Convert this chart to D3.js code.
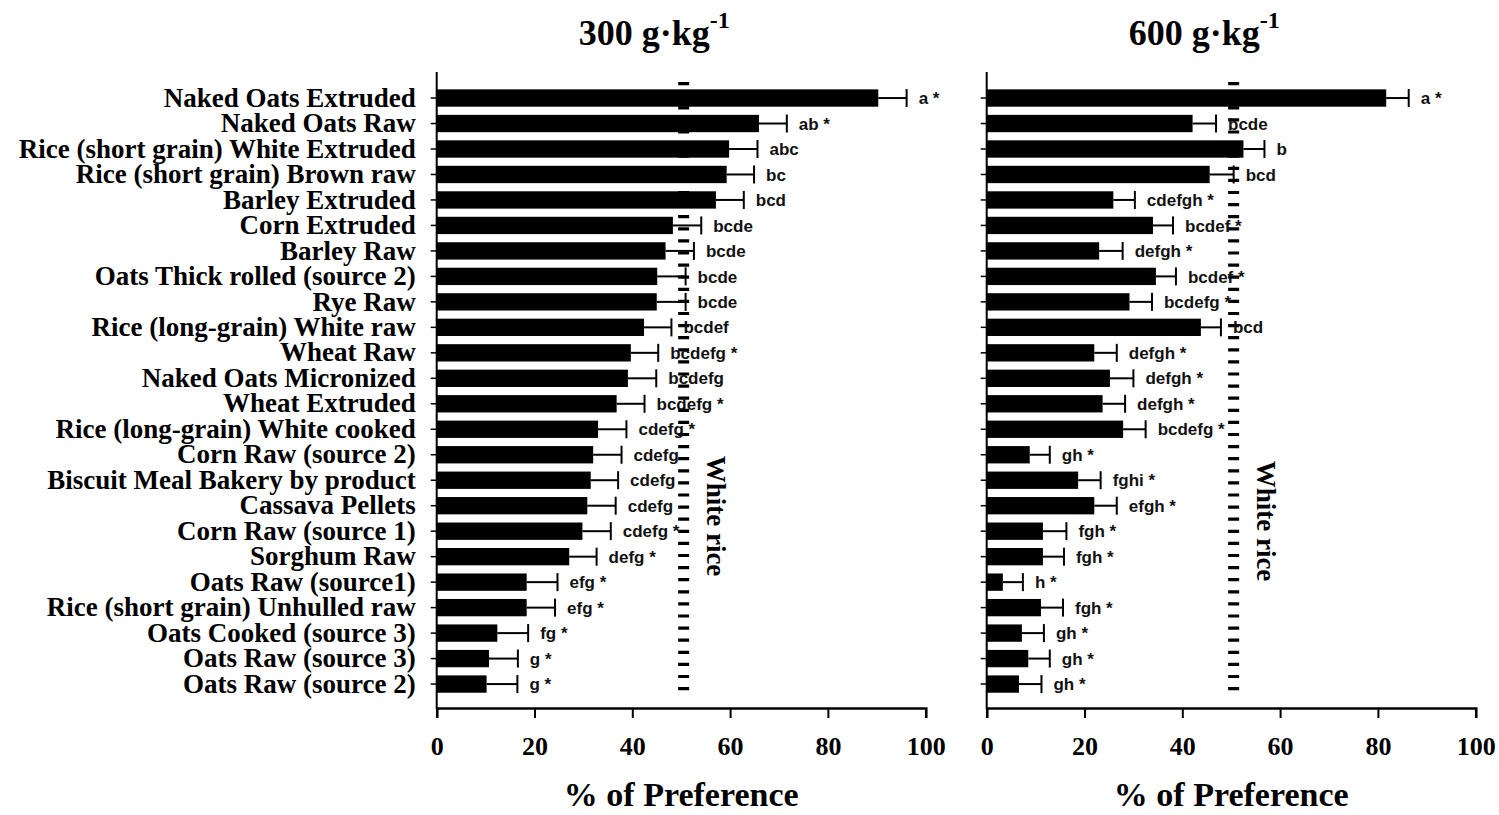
<!DOCTYPE html>
<html>
<head>
<meta charset="utf-8">
<script src="https://cdn.jsdelivr.net/npm/d3@7"></script>
<style>
  html, body { margin: 0; padding: 0; background: #ffffff; }
  svg { display: block; }
</style>
</head>
<body>
<div id="chart"></div>
<script>
// Feed ingredients, listed top to bottom
const categories = [
  "Naked Oats Extruded",
  "Naked Oats Raw",
  "Rice (short grain) White Extruded",
  "Rice (short grain) Brown raw",
  "Barley Extruded",
  "Corn Extruded",
  "Barley Raw",
  "Oats Thick rolled (source 2)",
  "Rye Raw",
  "Rice (long-grain) White raw",
  "Wheat Raw",
  "Naked Oats Micronized",
  "Wheat Extruded",
  "Rice (long-grain) White cooked",
  "Corn Raw (source 2)",
  "Biscuit Meal Bakery by product",
  "Cassava Pellets",
  "Corn Raw (source 1)",
  "Sorghum Raw",
  "Oats Raw (source1)",
  "Rice (short grain) Unhulled raw",
  "Oats Cooked (source 3)",
  "Oats Raw (source 3)",
  "Oats Raw (source 2)"
];

// % of preference at 300 g/kg inclusion, with SEM
const pref300 = [90.3, 65.9, 59.8, 59.3, 57.1, 48.3, 46.8, 45.1, 45.0, 42.4, 39.7, 39.1,
                 36.8, 33.0, 32.0, 31.5, 30.8, 29.8, 27.1, 18.4, 18.4, 12.4, 10.7, 10.2];
const err300  = [5.8, 5.7, 5.8, 5.6, 5.7, 5.8, 5.8, 5.8, 5.9, 5.6, 5.6, 5.8,
                 5.7, 5.8, 5.8, 5.6, 5.8, 5.8, 5.6, 6.3, 5.8, 6.3, 5.9, 6.3];
const sig300  = ["a *", "ab *", "abc", "bc", "bcd", "bcde", "bcde", "bcde", "bcde", "bcdef",
                 "bcdefg *", "bcdefg", "bcdefg *", "cdefg *", "cdefg", "cdefg", "cdefg",
                 "cdefg *", "defg *", "efg *", "efg *", "fg *", "g *", "g *"];

// % of preference at 600 g/kg inclusion, with SEM
const pref600 = [81.7, 42.1, 52.5, 45.6, 25.9, 34.0, 23.0, 34.6, 29.2, 43.8, 22.0, 25.2,
                 23.7, 27.9, 8.8, 18.7, 22.0, 11.5, 11.5, 3.3, 11.1, 7.2, 8.5, 6.6];
const err600  = [4.6, 4.8, 4.3, 4.9, 4.4, 4.1, 4.8, 4.1, 4.6, 4.1, 4.6, 4.8,
                 4.6, 4.6, 4.1, 4.6, 4.6, 4.8, 4.3, 4.1, 4.5, 4.5, 4.4, 4.6];
const sig600  = ["a *", "bcde", "b", "bcd", "cdefgh *", "bcdef *", "defgh *", "bcdef *",
                 "bcdefg *", "bcd", "defgh *", "defgh *", "defgh *", "bcdefg *", "gh *",
                 "fghi *", "efgh *", "fgh *", "fgh *", "h *", "fgh *", "gh *", "gh *", "gh *"];

// Reference level: preference for white rice
const whiteRiceLevel = 50.5;
const xTicks = [0, 20, 40, 60, 80, 100];

const W = 1499, H = 815;
const SERIF = "'Liberation Serif', 'Times New Roman', serif";
const SANS = "'Liberation Sans', Arial, sans-serif";

const svg = d3.select("#chart").append("svg")
  .attr("width", W).attr("height", H)
  .attr("viewBox", `0 0 ${W} ${H}`);
svg.append("rect").attr("width", W).attr("height", H).attr("fill", "#fff");

const axisTop = 72, axisBottom = 708;

const y = d3.scaleBand()
  .domain(categories)
  .range([85.3, 696.8])
  .paddingInner(0.32)
  .paddingOuter(0.16);

const panels = [
  { x0: 436.7, x1: 925.7, title: "300 g\u00B7kg", values: pref300, errs: err300, sigs: sig300,
    showLabels: true, noteY: 516 },
  { x0: 986.7, x1: 1475.7, title: "600 g\u00B7kg", values: pref600, errs: err600, sigs: sig600,
    showLabels: false, noteY: 521 }
];

panels.forEach(p => {
  const x = d3.scaleLinear().domain([0, 100]).range([p.x0, p.x1]);
  const g = svg.append("g");

  // panel title with superscript
  const t = g.append("text")
    .attr("x", p.x0 + 142).attr("y", 45)
    .attr("font-family", SERIF).attr("font-weight", "bold")
    .attr("font-size", 36).attr("fill", "#000");
  t.append("tspan").text(p.title);
  t.append("tspan").attr("font-size", 24).attr("dy", -17).text("-1");

  // white rice reference line
  g.append("line")
    .attr("x1", x(whiteRiceLevel)).attr("x2", x(whiteRiceLevel))
    .attr("y1", 82).attr("y2", 699)
    .attr("stroke", "#000").attr("stroke-width", 11)
    .attr("stroke-dasharray", "3.2,8.9");

  g.append("text")
    .attr("transform", `translate(${x(whiteRiceLevel) + 32.5},${p.noteY}) rotate(90)`)
    .attr("text-anchor", "middle").attr("dominant-baseline", "central")
    .attr("font-family", SERIF).attr("font-weight", "bold")
    .attr("font-size", 27).attr("fill", "#000")
    .text("White rice");

  const rows = categories.map((c, i) => ({ c, v: p.values[i], e: p.errs[i], s: p.sigs[i] }));

  // bars
  g.append("g").selectAll("rect").data(rows).join("rect")
    .attr("x", x(0))
    .attr("y", d => y(d.c))
    .attr("width", d => x(d.v) - x(0))
    .attr("height", y.bandwidth())
    .attr("fill", "#000");

  // error bars
  const eb = g.append("g").attr("stroke", "#000").attr("stroke-width", 2);
  eb.selectAll("line.stem").data(rows).join("line").attr("class", "stem")
    .attr("x1", d => x(d.v)).attr("x2", d => x(d.v + d.e))
    .attr("y1", d => y(d.c) + y.bandwidth() / 2)
    .attr("y2", d => y(d.c) + y.bandwidth() / 2);
  eb.selectAll("line.cap").data(rows).join("line").attr("class", "cap")
    .attr("x1", d => x(d.v + d.e)).attr("x2", d => x(d.v + d.e))
    .attr("y1", d => y(d.c) + y.bandwidth() / 2 - 9)
    .attr("y2", d => y(d.c) + y.bandwidth() / 2 + 9);

  // significance letters
  g.append("g").selectAll("text").data(rows).join("text")
    .attr("x", d => x(d.v + d.e) + 12)
    .attr("y", d => y(d.c) + y.bandwidth() / 2)
    .attr("dy", "0.36em")
    .attr("font-family", SANS).attr("font-weight", "bold")
    .attr("font-size", 17).attr("fill", "#111")
    .attr("xml:space", "preserve")
    .text(d => d.s);

  // category axis
  const yAxis = d3.axisLeft(y).tickSizeOuter(0).tickSize(6).tickPadding(15);
  if (!p.showLabels) yAxis.tickFormat("");
  const ya = g.append("g").attr("transform", `translate(${p.x0},0)`).call(yAxis);
  ya.select(".domain").remove();
  ya.selectAll(".tick line").attr("stroke", "#000").attr("stroke-width", 1.5);
  ya.selectAll(".tick text")
    .attr("font-family", SERIF).attr("font-weight", "bold")
    .attr("font-size", 27).attr("fill", "#000");
  g.append("line")
    .attr("x1", p.x0).attr("x2", p.x0)
    .attr("y1", axisTop).attr("y2", axisBottom + 1)
    .attr("stroke", "#000").attr("stroke-width", 2);

  // value axis
  const xAxis = d3.axisBottom(x).tickValues(xTicks).tickSizeOuter(0).tickSize(10).tickPadding(19);
  const xa = g.append("g").attr("transform", `translate(0,${axisBottom})`).call(xAxis);
  xa.select(".domain").attr("stroke", "#000").attr("stroke-width", 2.5);
  xa.selectAll(".tick line").attr("stroke", "#000").attr("stroke-width", 2);
  xa.selectAll(".tick text")
    .attr("font-family", SERIF).attr("font-weight", "bold")
    .attr("font-size", 26).attr("fill", "#000");

  g.append("text")
    .attr("x", (x(0) + x(100)) / 2).attr("y", 806)
    .attr("text-anchor", "middle")
    .attr("font-family", SERIF).attr("font-weight", "bold")
    .attr("font-size", 34).attr("fill", "#000")
    .text("% of Preference");
});
</script>
</body>
</html>
